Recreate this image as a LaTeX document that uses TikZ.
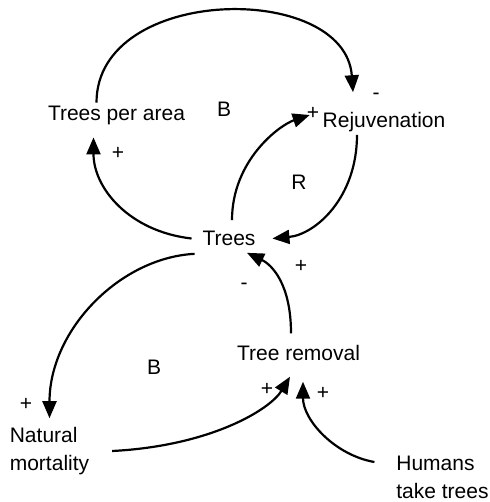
\documentclass[tikz,border=0pt]{standalone}
\usepackage{fontspec}
\setmainfont{Liberation Sans}
\usetikzlibrary{arrows.meta}

\begin{document}
\begin{tikzpicture}[x=0.5pt, y=-0.5pt,
  var/.style={inner sep=1.5pt, outer sep=0pt, font=\fontsize{10.5}{14}\selectfont, align=left},
  sign/.style={inner sep=0pt, font=\fontsize{10.5}{14}\selectfont},
  link/.style={line width=1.1pt, -{Triangle[length=8.5pt, width=7pt]}}]

  \useasboundingbox (0,0) rectangle (490,502);

  % -- Variables --
  \node[var] (tpa) at (116.5,115) {Trees per area};
  \node[var] (rej) at (384,122) {Rejuvenation};
  \node[var] (trees) at (229,238.5) {Trees};
  \node[var] (rem) at (298.5,353) {Tree removal};
  \node[var] (nat) at (49.5,451) {Natural\\mortality};
  \node[var] (hum) at (442.5,477) {Humans\\take trees};

  % -- Upper loops --
  \draw[link] ([xshift=-10pt]tpa.north) .. controls +(0,-118) and +(-8,-111) .. ([xshift=-15.5pt,yshift=8.5pt]rej.north);
  \draw[link] ([xshift=-4pt]trees.west) .. controls +(-62,-7) and +(0,51) .. ([xshift=-11.5pt,yshift=-5pt]tpa.south);
  \draw[link] ([xshift=1.5pt,yshift=4pt]trees.north) .. controls +(0,-60) and +(-30,10) .. ([xshift=-5pt,yshift=3.5pt]rej.west);
  \draw[link] ([xshift=-13.5pt]rej.south) .. controls +(0,63) and +(43,-4) .. ([xshift=7pt]trees.east);

  % -- Lower loop --
  \draw[link] ([xshift=-2.5pt,yshift=-2.5pt]trees.south west) .. controls +(-75,4) and +(0,-88) .. ([yshift=3pt]nat.north);
  \draw[link] ([xshift=-3.75pt,yshift=4.5pt]rem.north) .. controls +(0,-49) and +(25,12) .. ([xshift=9pt,yshift=-2pt]trees.south);
  \draw[link] ([xshift=10pt]nat.east) .. controls +(98,-5) and +(-20,33) .. ([xshift=-4.25pt,yshift=-6.5pt]rem.south);
  \draw[link] ([xshift=-9.5pt,yshift=7.5pt]hum.west) .. controls +(-40,-7) and +(0,38) .. ([xshift=2.25pt,yshift=-9pt]rem.south);

  % -- Polarities and loop labels --
  \node[sign] (b1) at (224,109) {B};
  \node[sign] (m1) at (376,96.5) {-};
  \node[sign] (p1) at (313,113) {+};
  \node[sign] (p2) at (118,153) {+};
  \node[sign] (r1) at (299,182) {R};
  \node[sign] (p3) at (301,266) {+};
  \node[sign] (m2) at (244,286.5) {-};
  \node[sign] (b2) at (154,367) {B};
  \node[sign] (p4) at (267,389) {+};
  \node[sign] (p5) at (323,393) {+};
  \node[sign] (p6) at (26,404) {+};

\end{tikzpicture}
\end{document}
